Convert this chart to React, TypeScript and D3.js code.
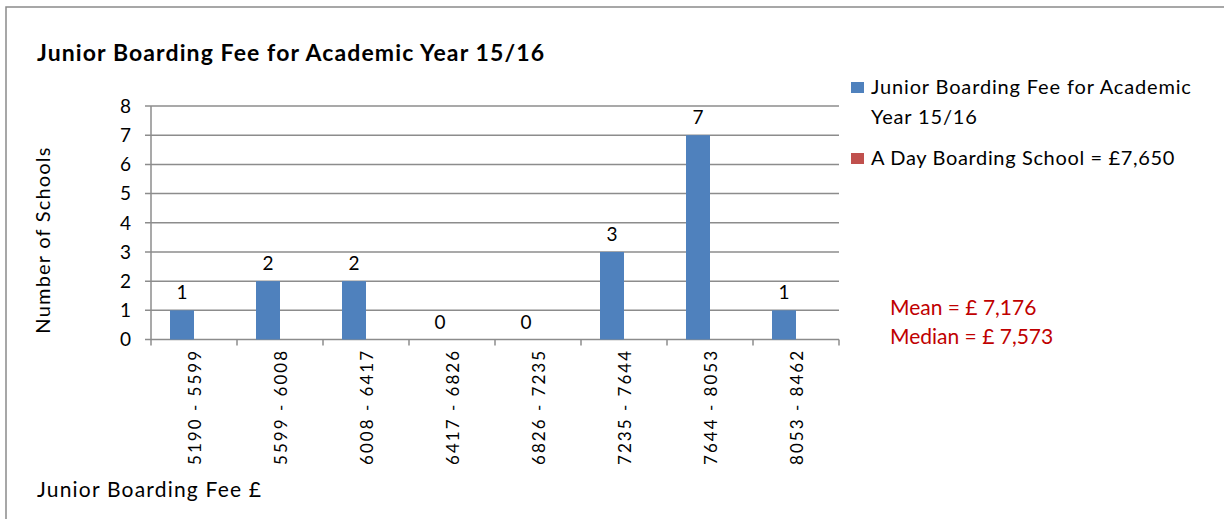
import React from "react";
import * as d3 from "d3";

const categories = [
  "5190 - 5599",
  "5599 - 6008",
  "6008 - 6417",
  "6417 - 6826",
  "6826 - 7235",
  "7235 - 7644",
  "7644 - 8053",
  "8053 - 8462",
];
const counts = [1, 2, 2, 0, 0, 3, 7, 1];
const seriesNames = ["Junior Boarding Fee for Academic Year 15/16", "A Day Boarding School = £7,650"];
const yTicks = [0, 1, 2, 3, 4, 5, 6, 7, 8];
const statLines = ["Mean = £ 7,176", "Median = £ 7,573"];

const FONT = "Lato, 'Open Sans', sans-serif";
const BLUE = "#4F81BD";
const RED = "#C0504D";
const GRID = "#8C8C8C";

export default function App() {
  const W = 1224, H = 519;
  const left = 151, right = 839, top = 106, bottom = 339.5;
  const x = d3.scaleBand<string>().domain(categories).range([left, right]).paddingInner(0).paddingOuter(0);
  const inner = d3.scaleBand<string>().domain(["s0", "s1"]).range([19, x.bandwidth() - 19]).padding(0);
  const y = d3.scaleLinear().domain([0, 8]).range([bottom, top]);

  return (
    <svg width={W} height={H} style={{ position: "absolute", left: 0, top: 0, background: "#fff" }} fontFamily={FONT}>
      <rect x={0} y={0} width={W} height={H} fill="#fff" />
      <rect x={6} y={7} width={W + 20} height={H + 20} fill="none" stroke="#8A8A8A" strokeWidth={1.5} />
      <text x={37} y={61} fontSize={23} fontWeight={700} letterSpacing={1.1} fill="#000">Junior Boarding Fee for Academic Year 15/16</text>

      {/* gridlines */}
      {yTicks.map((t) => (
        <g key={t}>
          <line x1={left - 6} x2={right} y1={y(t)} y2={y(t)} stroke={GRID} strokeWidth={1.5} />
          <text x={131} y={y(t)} dy="0.36em" textAnchor="end" fontSize={19} fill="#000">{t}</text>
        </g>
      ))}
      <line x1={left} x2={left} y1={top} y2={bottom} stroke={GRID} strokeWidth={1.5} />
      {/* x ticks */}
      {categories.concat(["__end"]).map((c, i) => {
        const xx = left + i * x.step();
        return <line key={c} x1={xx} x2={xx} y1={bottom} y2={bottom + 6} stroke={GRID} strokeWidth={1.5} />;
      })}

      {/* bars */}
      {categories.map((c, i) => {
        const bx = (x(c) as number) + (inner("s0") as number);
        return (
          <g key={c}>
            <rect x={bx} y={y(counts[i])} width={inner.bandwidth()} height={bottom - y(counts[i])} fill={BLUE} />
            <text x={bx + inner.bandwidth() / 2} y={y(counts[i]) - 11} textAnchor="middle" fontSize={19} fill="#000">{counts[i]}</text>
          </g>
        );
      })}

      {/* x labels */}
      {categories.map((c) => {
        const cx = (x(c) as number) + x.bandwidth() / 2 + 1;
        return (
          <text key={c} transform={`translate(${cx},349) rotate(-90)`} textAnchor="end" dy="0.36em" fontSize={17} letterSpacing={2.0} fill="#000">{c}</text>
        );
      })}

      <text transform="translate(50,240) rotate(-90)" textAnchor="middle" fontSize={20} letterSpacing={1.2} fill="#000">Number of Schools</text>
      <text x={37} y={497} fontSize={21} letterSpacing={1.2} fill="#000">Junior Boarding Fee £</text>

      {/* legend */}
      <rect x={851} y={82} width={13} height={11} fill={BLUE} />
      <text x={871} y={94} fontSize={20} letterSpacing={0.85} fill="#000">Junior Boarding Fee for Academic</text>
      <text x={871} y={124} fontSize={20} letterSpacing={0.85} fill="#000">Year 15/16</text>
      <rect x={851} y={153} width={13} height={11} fill={RED} />
      <text x={871} y={165} fontSize={20} letterSpacing={0.65} fill="#000">{seriesNames[1]}</text>

      {statLines.map((s, i) => (
        <text key={s} x={890} y={315 + i * 29} fontSize={21} fill="#C00000">{s}</text>
      ))}
    </svg>
  );
}
